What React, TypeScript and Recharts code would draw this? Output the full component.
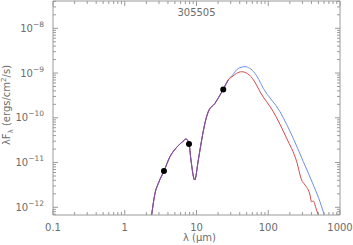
import React from 'react';
import { ComposedChart, Line, Scatter, XAxis, YAxis, Label } from 'recharts';

// shared part of the two SEDs (curves overlap below ~28 micron)
const sharedLam = [2.37, 2.64, 2.94, 3.52, 4.27, 5.3, 6.55, 7.14, 7.86, 8.37, 9.44, 10.6, 11.8, 13.1, 14.6, 18.1, 21.3, 23.6, 27.7];
const sharedFlux = [6.7e-13, 2.06e-12, 3.44e-12, 6.46e-12, 1.35e-11, 2.19e-11, 3.03e-11, 3.36e-11, 2.63e-11, 1.14e-11, 4.07e-12, 1.14e-11, 3.19e-11, 7.53e-11, 1.37e-10, 2.11e-10, 3.24e-10, 4.34e-10, 7.0e-10];

// blue model tail
const blueLam = [32.3, 36, 40.4, 47.4, 55, 60, 70, 85.3, 145.8, 223, 308, 425, 526, 604];
const blueFlux = [9.3e-10, 1.17e-9, 1.32e-9, 1.39e-9, 1.28e-9, 1.15e-9, 8.3e-10, 4.56e-10, 1.37e-10, 3.48e-11, 1.05e-11, 3.16e-12, 1.33e-12, 6.7e-13];

// red model tail
const redLam = [32.3, 36, 42.7, 55, 65, 76.7, 117.5, 180.6, 249, 292, 325, 382, 401, 425, 463, 499];
const redFlux = [8.6e-10, 9.8e-10, 1.07e-9, 8.9e-10, 6.3e-10, 3.83e-10, 1.37e-10, 3.48e-11, 1.05e-11, 4.07e-12, 3.16e-12, 1.88e-12, 1.33e-12, 1.38e-12, 9.5e-13, 6.7e-13];

// photometry
const obsLam = [3.52, 7.86, 23.6];
const obsFlux = [6.5e-12, 2.6e-11, 4.3e-10];

const xMajors = [0.1, 1, 10, 100, 1000];
const yMajors = [1e-12, 1e-11, 1e-10, 1e-9, 1e-8];
const minorSteps = [2, 3, 4, 5, 6, 7, 8, 9];

const X_DOMAIN: [number, number] = [0.1, 1000];
const Y_DOMAIN: [number, number] = [6.73e-13, 4.07e-8];

const AXIS = '#9a9a9a';
const TEXT = '#6c6c6c';
const FONT = '"DejaVu Sans", sans-serif';
const BLUE = '#7090e6';
const RED = '#d04848';
const PURPLE = '#7650ae';

const toPoints = (lam: number[], flux: number[]) => lam.map((l, i) => ({ lam: l, f: flux[i] }));

const sharedData = toPoints(sharedLam, sharedFlux);
const blueData = [...sharedData, ...toPoints(blueLam, blueFlux)];
const redData = [...sharedData, ...toPoints(redLam, redFlux)];
const obsData = toPoints(obsLam, obsFlux);

function logTicks(domain: [number, number]) {
  const out: number[] = [];
  const lo = Math.floor(Math.log10(domain[0]));
  const hi = Math.ceil(Math.log10(domain[1]));
  for (let d = lo; d <= hi; d++) {
    const base = Math.pow(10, d);
    [1, ...minorSteps].forEach((k) => {
      const v = k * base;
      if (v >= domain[0] * 0.999 && v <= domain[1] * 1.001) out.push(v);
    });
  }
  return out;
}

const xTicks = logTicks(X_DOMAIN);
const yTicks = logTicks(Y_DOMAIN);

const isMajor = (v: number) => {
  const l = Math.log10(v);
  return Math.abs(l - Math.round(l)) < 1e-6;
};

const xLabel = (v: number) => {
  const m = xMajors.find((t) => Math.abs(t - v) / t < 1e-6);
  return m === undefined ? '' : String(m);
};

// ticks point into the plot, IDL style
function BottomTick(props: any) {
  const { x, y, payload } = props;
  const major = isMajor(payload.value);
  return (
    <g>
      <line x1={x} x2={x} y1={y} y2={y - (major ? 5 : 3)} stroke={AXIS} />
      {major && (
        <text x={x} y={y + 16} textAnchor="middle" fill={TEXT} fontSize={10} fontFamily={FONT}>
          {xLabel(payload.value)}
        </text>
      )}
    </g>
  );
}

function TopTick(props: any) {
  const { x, y, payload } = props;
  const major = isMajor(payload.value);
  return <line x1={x} x2={x} y1={y} y2={y + (major ? 5 : 3)} stroke={AXIS} />;
}

function LeftTick(props: any) {
  const { x, y, payload } = props;
  const major = isMajor(payload.value);
  const exp = Math.round(Math.log10(payload.value));
  return (
    <g>
      <line x1={x} x2={x + (major ? 5 : 3)} y1={y} y2={y} stroke={AXIS} />
      {major && yMajors.some((m) => Math.abs(m - payload.value) / m < 1e-6) && (
        <text x={x - 9} y={y + 3.5} textAnchor="end" fill={TEXT} fontSize={10} fontFamily={FONT}>
          <tspan>10</tspan>
          <tspan dy={-5} fontSize={7.5}>{`\u2212${Math.abs(exp)}`}</tspan>
        </text>
      )}
    </g>
  );
}

function RightTick(props: any) {
  const { x, y, payload } = props;
  const major = isMajor(payload.value);
  return <line x1={x} x2={x - (major ? 5 : 3)} y1={y} y2={y} stroke={AXIS} />;
}

function YTitle(props: any) {
  const vb = props.viewBox || { x: 0, y: 0, width: 53, height: 214 };
  const cx = vb.x + 10;
  const cy = vb.y + vb.height / 2 - 3;
  return (
    <text x={cx} y={cy} transform={`rotate(-90, ${cx}, ${cy})`} textAnchor="middle" fill={TEXT} fontSize={10} fontFamily={FONT}>
      <tspan>λF</tspan>
      <tspan dy={3} fontSize={7}>λ</tspan>
      <tspan dy={-3}> (ergs/cm</tspan>
      <tspan dy={-4} fontSize={7}>2</tspan>
      <tspan dy={4}>/s)</tspan>
    </text>
  );
}

function XTitle(props: any) {
  const vb = props.viewBox || { x: 53, y: 215, width: 287, height: 30 };
  return (
    <text x={vb.x + vb.width / 2 + 3} y={vb.y + 26} textAnchor="middle" fill={TEXT} fontSize={10} fontFamily={FONT}>
      λ (μm)
    </text>
  );
}

function PlotTitle(props: any) {
  const vb = props.viewBox || { x: 53, y: 1, width: 287, height: 0 };
  return (
    <text x={vb.x + vb.width / 2} y={16} textAnchor="middle" fill={TEXT} fontSize={10} fontFamily={FONT}>
      305505
    </text>
  );
}

export default function App() {
  return (
    <div style={{ position: 'absolute', left: 0, top: 0, background: '#fff' }}>
      <ComposedChart width={353} height={245} margin={{ top: 0, right: 0, bottom: 0, left: 0 }}>
        <XAxis
          dataKey="lam"
          type="number"
          scale="log"
          domain={X_DOMAIN}
          allowDataOverflow
          ticks={xTicks}
          interval={0}
          tickSize={0}
          tickMargin={0}
          tickLine={false}
          tick={BottomTick}
          axisLine={{ stroke: AXIS }}
          height={30}
        >
          <Label content={XTitle} />
        </XAxis>
        <XAxis
          xAxisId="top"
          orientation="top"
          dataKey="lam"
          type="number"
          scale="log"
          domain={X_DOMAIN}
          allowDataOverflow
          ticks={xTicks}
          interval={0}
          tickSize={0}
          tickMargin={0}
          tickLine={false}
          tick={TopTick}
          axisLine={{ stroke: AXIS }}
          height={1}
        >
          <Label content={PlotTitle} />
        </XAxis>
        <YAxis
          dataKey="f"
          type="number"
          scale="log"
          domain={Y_DOMAIN}
          allowDataOverflow
          ticks={yTicks}
          interval={0}
          tickSize={0}
          tickMargin={0}
          tickLine={false}
          tick={LeftTick}
          axisLine={{ stroke: AXIS }}
          width={53}
        >
          <Label content={YTitle} />
        </YAxis>
        <YAxis
          yAxisId="right"
          orientation="right"
          dataKey="f"
          type="number"
          scale="log"
          domain={Y_DOMAIN}
          allowDataOverflow
          ticks={yTicks}
          interval={0}
          tickSize={0}
          tickMargin={0}
          tickLine={false}
          tick={RightTick}
          axisLine={{ stroke: AXIS }}
          width={13}
        />
        <Line data={blueData} dataKey="f" type="monotone" stroke={BLUE} strokeWidth={1} dot={false} isAnimationActive={false} />
        <Line data={redData} dataKey="f" type="monotone" stroke={RED} strokeWidth={1} dot={false} isAnimationActive={false} />
        <Line data={sharedData} dataKey="f" type="monotone" stroke={PURPLE} strokeWidth={1} dot={false} isAnimationActive={false} />
        <Scatter
          data={obsData}
          dataKey="f"
          xAxisId="top"
          yAxisId="right"
          isAnimationActive={false}
          shape={(p: any) => <circle cx={p.cx} cy={p.cy} r={3} fill="#000" />}
        />
      </ComposedChart>
    </div>
  );
}
